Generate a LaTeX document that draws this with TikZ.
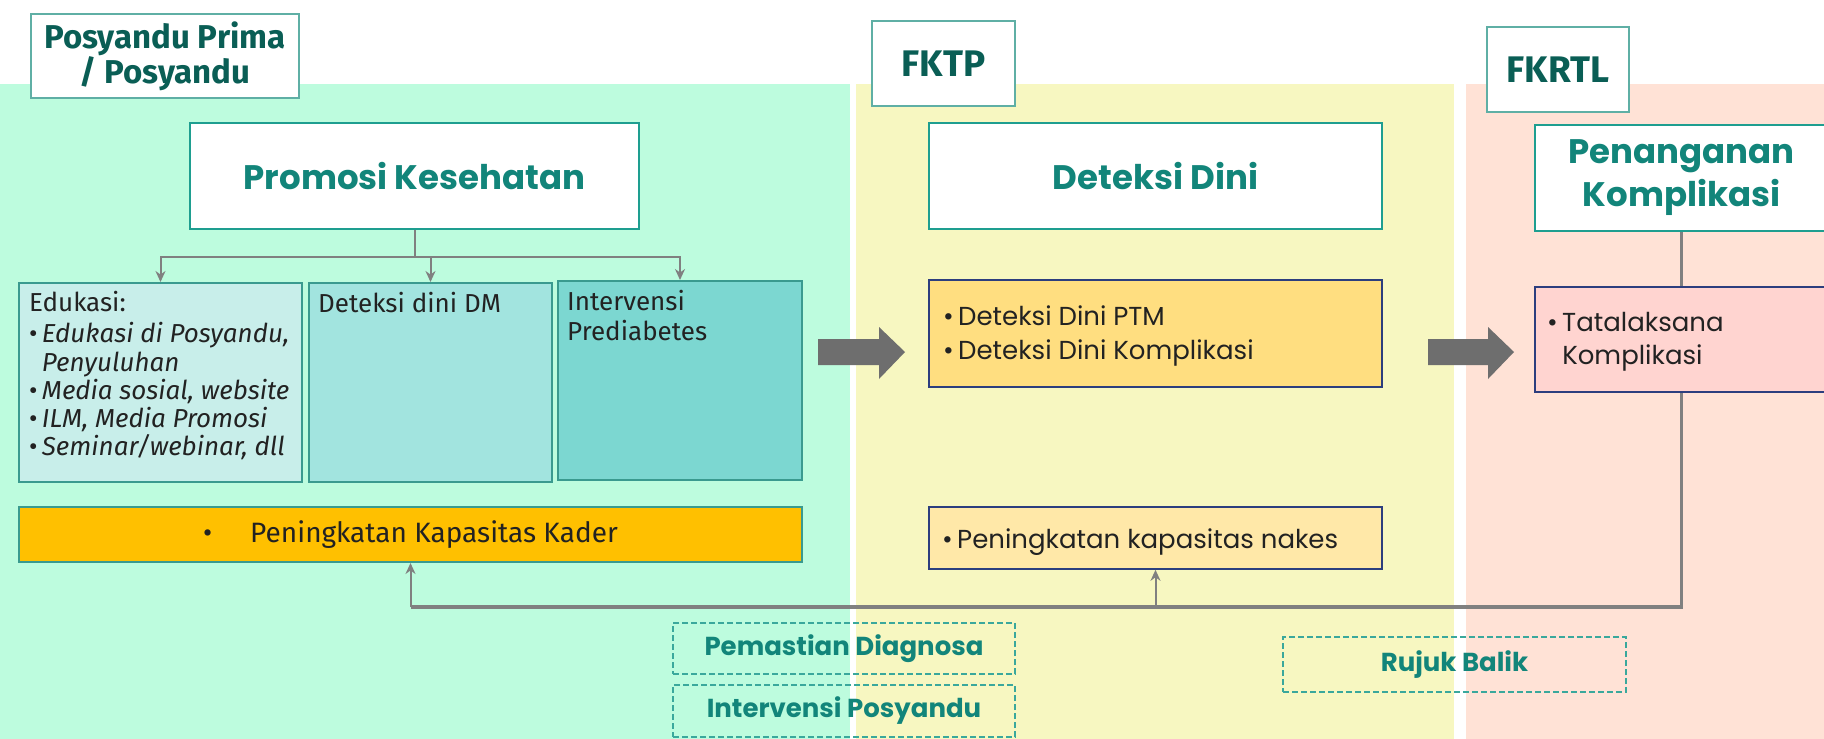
\documentclass[tikz,border=0pt]{standalone}
\usepackage{fontspec}
\setmainfont{Poppins}
\newfontfamily\twfont{Fira Sans}
\usetikzlibrary{arrows.meta,positioning}

\definecolor{mintband}{HTML}{BDFCDE}
\definecolor{lemonband}{HTML}{F7F7C1}
\definecolor{peachband}{HTML}{FFE2D6}
\definecolor{titleteal}{HTML}{0A5E55}
\definecolor{headteal}{HTML}{12857A}
\definecolor{titleline}{HTML}{5FAFA5}
\definecolor{headline}{HTML}{1E9E90}
\definecolor{boxline}{HTML}{3A9A8F}
\definecolor{edufill}{HTML}{C8EEEA}
\definecolor{dmfill}{HTML}{A2E4DF}
\definecolor{intfill}{HTML}{7CD7D1}
\definecolor{kaderfill}{HTML}{FFC000}
\definecolor{ptmfill}{HTML}{FFDE80}
\definecolor{nakesfill}{HTML}{FFE8A8}
\definecolor{tatafill}{HTML}{FFD4D0}
\definecolor{navyline}{HTML}{2C3E7E}
\definecolor{linkgray}{HTML}{808080}
\definecolor{arrowgray}{HTML}{6E6E6E}
\definecolor{dashteal}{HTML}{3AA89C}
\definecolor{bodyink}{HTML}{222222}

\begin{document}
\begin{tikzpicture}[x=1pt, y=-1pt]
        % Define styles
        \tikzstyle{titlebox} = [rectangle, draw=titleline, line width=2pt, fill=white, text=titleteal, align=center, font=\twfont\bfseries\fontsize{33}{35}\selectfont]
        \tikzstyle{headbox} = [rectangle, draw=headline, line width=2pt, fill=white, text=headteal, align=center, font=\bfseries\fontsize{34}{43}\selectfont]
        \tikzstyle{tealbox} = [rectangle, draw=boxline, line width=2pt, text=bodyink, font=\twfont\fontsize{28}{30}\selectfont]
        \tikzstyle{navybox} = [rectangle, draw=navyline, line width=1.6pt]
        \tikzstyle{twtext} = [inner sep=0pt, anchor=north west, align=left, text=bodyink, font=\twfont\fontsize{26}{28.3}\selectfont]
        \tikzstyle{gothtext} = [inner sep=0pt, anchor=north west, align=left, text=bodyink, font=\fontsize{26}{34}\selectfont]
        \tikzstyle{dashbox} = [rectangle, draw=dashteal, line width=2pt, dash pattern=on 6pt off 3pt, text=headteal, font=\bfseries\fontsize{26}{30}\selectfont]
        \tikzstyle{link} = [draw=linkgray, line width=2pt]
        \tikzstyle{linkarrow} = [link, ->, >={Stealth[length=11pt,width=10pt]}]
        \tikzstyle{feedback} = [draw=linkgray, line width=3.5pt]
        \tikzstyle{blockarrow} = [fill=arrowgray]

        \useasboundingbox (0,0) rectangle (1824,739);
        \clip (0,0) rectangle (1824,739);

        % Bands
        \fill [mintband] (0,84) rectangle (850,739);
        \fill [lemonband] (856,84) rectangle (1454,739);
        \fill [peachband] (1466,84) rectangle (1824,739);

        % Nodes
        \node [titlebox, minimum width=268pt, minimum height=84pt] (posyandu) at (165,56) {Posyandu Prima\\/ Posyandu};
        \node [titlebox, minimum width=143pt, minimum height=85pt, font=\twfont\bfseries\fontsize{37}{40}\selectfont] (fktp) at (943.5,63.5) {FKTP};
        \node [titlebox, minimum width=142pt, minimum height=85pt, font=\twfont\bfseries\fontsize{37}{40}\selectfont] (fkrtl) at (1558,69.5) {FKRTL};

        \node [headbox, minimum width=449pt, minimum height=106pt] (promosi) at (414.5,176) {Promosi Kesehatan};
        \node [headbox, minimum width=453pt, minimum height=106pt] (deteksi) at (1155.5,176) {Deteksi Dini};
        \node [headbox, minimum width=293pt, minimum height=106pt] (penanganan) at (1681.5,178) {Penanganan\\Komplikasi};

        \node [tealbox, fill=edufill, minimum width=283pt, minimum height=199pt] (edukasi) at (160.5,382.5) {};
        \node [tealbox, fill=dmfill, minimum width=243pt, minimum height=199pt] (dm) at (430.5,382.5) {};
        \node [tealbox, fill=intfill, minimum width=244pt, minimum height=199pt] (intervensi) at (680,380.5) {};
        \node [tealbox, fill=kaderfill, minimum width=783pt, minimum height=55pt] (kader) at (410.5,534.5) {\textbullet\hspace{38pt}Peningkatan Kapasitas Kader};

        \node [navybox, fill=ptmfill, minimum width=453pt, minimum height=107pt] (ptm) at (1155.5,333.5) {};
        \node [navybox, fill=nakesfill, minimum width=453pt, minimum height=62pt] (nakes) at (1155.5,538) {};
        \node [navybox, fill=tatafill, minimum width=293pt, minimum height=105pt] (tatalaksana) at (1681.5,339.5) {};

        \node [dashbox, minimum width=342pt, minimum height=51pt] (pemastian) at (844,648.5) {Pemastian Diagnosa};
        \node [dashbox, minimum width=342pt, minimum height=52pt] (intposyandu) at (844,711) {Intervensi Posyandu};
        \node [dashbox, minimum width=343pt, minimum height=55pt] (rujuk) at (1454.5,664.5) {Rujuk Balik};

        % Box texts
        \node [twtext] (edutext) at (29,291) {Edukasi:\\[3pt]
            \textbullet\,\textit{Edukasi di Posyandu,}\\
            \phantom{\textbullet\,}\textit{Penyuluhan}\\
            \textbullet\,\textit{Media sosial, website}\\
            \textbullet\,\textit{ILM, Media Promosi}\\
            \textbullet\,\textit{Seminar/webinar, dll}};
        \node [twtext] (dmtext) at (318,292) {Deteksi dini DM};
        \node [twtext, font=\twfont\fontsize{26}{30}\selectfont] (inttext) at (567,290) {Intervensi\\Prediabetes};
        \node [gothtext] (ptmtext) at (943,306) {\textbullet\,Deteksi Dini PTM\\\textbullet\,Deteksi Dini Komplikasi};
        \node [gothtext, anchor=west] (nakestext) at (942,542) {\textbullet\,Peningkatan kapasitas nakes};
        \node [gothtext, font=\fontsize{26}{33}\selectfont] (tatatext) at (1547,312) {\textbullet\,Tatalaksana\\\phantom{\textbullet\,}Komplikasi};

        % Arrows
        \draw [link] (promosi.south) -- ++(0,27) coordinate (split);
        \foreach \target in {edukasi, dm, intervensi}
            \draw [linkarrow] (split) -| (\target.north);

        \draw [link, line width=3pt] (penanganan.south) -- (tatalaksana.north);
        \draw [feedback] (tatalaksana.south) -- ++(0,214) coordinate (corner) -- (corner -| kader.south) coordinate (kadercorner);
        \draw [linkarrow] (kadercorner) -- (kader.south);
        \draw [linkarrow] (corner -| nakes.south) -- (nakes.south);

        % Block arrows
        \foreach \x/\len in {818/61, 1428/60}
            \fill [blockarrow] (\x,339) -- ++(\len,0) -- ++(0,-12) -- ++(26,25) -- ++(-26,27) -- ++(0,-14) -- ++(-\len,0) -- cycle;
    \end{tikzpicture}
\end{document}
